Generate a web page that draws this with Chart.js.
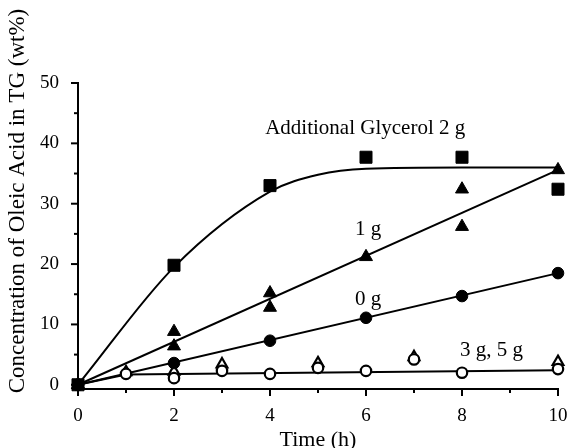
<!DOCTYPE html>
<html>
<head>
<meta charset="utf-8">
<script src="https://cdn.jsdelivr.net/npm/chart.js@4"></script>
<style>
  html, body { margin:0; padding:0; background:#fff; }
  #wrap { width:570px; height:448px; }
</style>
</head>
<body>
<div id="wrap"><canvas id="c" width="570" height="448"></canvas></div>
<script>
// ─── Oleic acid incorporation into TG vs time ───────────────────────────────
// Values.

// axis ticks
const X_TICKS = [0, 2, 4, 6, 8, 10];
const X_MINOR = [1, 3, 5, 7, 9];
const Y_TICKS = [0, 10, 20, 30, 40, 50];
const Y_MINOR = [5, 15, 25, 35, 45];

// additional glycerol 2 g (filled squares)
const t2g = [0, 2, 4, 6, 8, 10];
const y2g = [0, 19.8, 33.0, 37.7, 37.7, 32.4];
// 1 g (filled triangles, duplicates at some hours)
const t1g = [0, 2, 2, 4, 4, 6, 8, 8, 10];
const y1g = [0, 8.8, 6.4, 15.2, 12.8, 21.2, 32.4, 26.2, 35.6];
// 0 g (filled circles)
const t0g = [0, 2, 4, 6, 8, 10];
const y0g = [0, 3.6, 7.3, 11.1, 14.7, 18.5];
// 3 g (open circles)
const t3g = [0, 1, 2, 3, 4, 5, 6, 7, 8, 10];
const y3g = [0, 1.8, 1.1, 2.3, 1.8, 2.8, 2.3, 4.2, 2.0, 2.6];
// 5 g (open triangles)
const t5g = [0, 1, 2, 3, 5, 7, 10];
const y5g = [0, 2.1, 2.2, 3.4, 3.6, 4.6, 3.8];

// drawn fit curves
const fit2gT = [0, 2, 4, 5, 6, 8, 10];
const fit2gY = [0, 19.5, 32.0, 34.8, 35.8, 36.0, 36.0];
const fit1gT = [0, 10];
const fit1gY = [0, 35.6];
const fit0gT = [0, 10];
const fit0gY = [0, 18.5];
const fit35T = [0, 1, 10];
const fit35Y = [0, 1.7, 2.4];

// in-plot labels: [text, x, y(baseline)] in data units
const LABELS = [
  ['Additional Glycerol 2 g', 3.9, 41.6],
  ['1 g', 5.77, 24.8],
  ['0 g', 5.77, 13.2],
  ['3 g, 5 g', 7.96, 4.8],
];

const SERIF = "'Liberation Serif', 'Times New Roman', serif";
const pts = (xs, ys) => xs.map((x, i) => ({ x: x, y: ys[i] }));

function markers(xs, ys, style, radius, filled) {
  return {
    data: pts(xs, ys),
    showLine: false,
    pointStyle: style,
    pointRadius: radius,
    pointHoverRadius: radius,
    pointBackgroundColor: filled ? '#000' : '#fff',
    pointBorderColor: '#000',
    pointBorderWidth: filled ? 1 : 2.2,
    clip: false,
    order: 0,
  };
}

function fitLine(xs, ys, curved) {
  return {
    data: pts(xs, ys),
    showLine: true,
    borderColor: '#000',
    borderWidth: 2,
    pointRadius: 0,
    cubicInterpolationMode: curved ? 'monotone' : 'default',
    tension: 0,
    clip: false,
    order: 1,
  };
}

// minor/major tick marks + y title + in-plot labels
const decor = {
  id: 'decor',
  afterDraw(chart) {
    const { ctx, scales: { x, y }, chartArea: a } = chart;
    ctx.save();
    ctx.strokeStyle = '#000';
    ctx.lineWidth = 2;
    const tick = (x1, y1, x2, y2) => { ctx.beginPath(); ctx.moveTo(x1, y1); ctx.lineTo(x2, y2); ctx.stroke(); };
    X_TICKS.forEach(v => { const px = x.getPixelForValue(v); tick(px, a.bottom, px, a.bottom + 7); });
    X_MINOR.forEach(v => { const px = x.getPixelForValue(v); tick(px, a.bottom, px, a.bottom + 4); });
    Y_TICKS.forEach(v => { const py = y.getPixelForValue(v); tick(a.left, py, a.left - 7, py); });
    Y_MINOR.forEach(v => { const py = y.getPixelForValue(v); tick(a.left, py, a.left - 4, py); });

    ctx.fillStyle = '#000';
    ctx.font = '21px ' + SERIF;
    ctx.textAlign = 'left';
    ctx.textBaseline = 'alphabetic';
    LABELS.forEach(([txt, lx, ly]) => ctx.fillText(txt, x.getPixelForValue(lx), y.getPixelForValue(ly)));

    // y title, rotated
    ctx.font = '23px ' + SERIF;
    ctx.translate(18, 201);
    ctx.rotate(-Math.PI / 2);
    ctx.textAlign = 'center';
    ctx.textBaseline = 'middle';
    ctx.fillText('Concentration of Oleic Acid in TG (wt%)', 0, 0);
    ctx.restore();
  }
};

new Chart(document.getElementById('c'), {
  type: 'scatter',
  data: {
    datasets: [
      markers(t2g, y2g, 'rect', 8.5, true),
      markers(t1g, y1g, 'triangle', 7.5, true),
      markers(t0g, y0g, 'circle', 5.8, true),
      markers(t3g, y3g, 'circle', 5.2, false),
      markers(t5g, y5g, 'triangle', 6.2, false),
      fitLine(fit2gT, fit2gY, true),
      fitLine(fit1gT, fit1gY, false),
      fitLine(fit0gT, fit0gY, false),
      fitLine(fit35T, fit35Y, false),
    ]
  },
  options: {
    responsive: false,
    animation: false,
    events: [],
    layout: { padding: { top: 83, right: 12, left: 0, bottom: 0 } },
    plugins: { legend: { display: false }, tooltip: { enabled: false } },
    scales: {
      x: {
        type: 'linear',
        min: 0, max: 10,
        afterBuildTicks: s => { s.ticks = X_TICKS.map(v => ({ value: v })); },
        afterFit: s => { s.height = 59; s.paddingRight = 0; s.paddingLeft = 0; },
        grid: { display: false },
        border: { display: true, color: '#000', width: 2 },
        ticks: { color: '#000', font: { family: SERIF, size: 19 }, padding: 8, maxRotation: 0 },
        title: { display: true, text: 'Time (h)', color: '#000', font: { family: SERIF, size: 22, lineHeight: 0.75 }, padding: { top: 0, bottom: 0 } }
      },
      y: {
        type: 'linear',
        min: -0.7, max: 50,
        afterBuildTicks: s => { s.ticks = Y_TICKS.map(v => ({ value: v })); },
        afterFit: s => { s.width = 78; s.paddingTop = 0; s.paddingBottom = 0; },
        grid: { display: false },
        border: { display: true, color: '#000', width: 2 },
        ticks: { color: '#000', font: { family: SERIF, size: 19 }, padding: 11 }
      }
    }
  },
  plugins: [decor]
});
</script>
</body>
</html>
